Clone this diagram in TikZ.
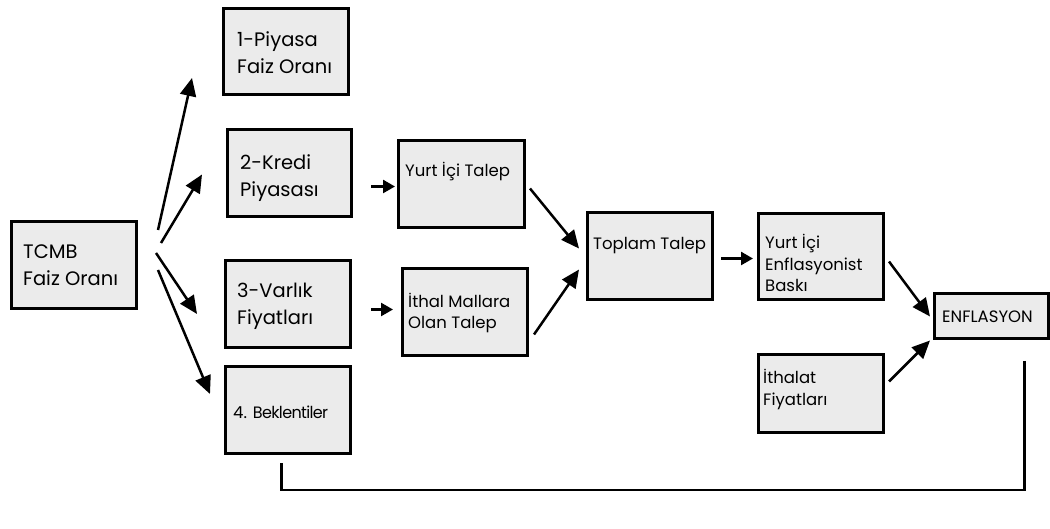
\documentclass[tikz,border=0pt]{standalone}
\usepackage{fontspec}
\setmainfont{Poppins}
\usetikzlibrary{arrows.meta,calc}
\definecolor{boxgray}{HTML}{EBEBEB}
\tikzset{
  box/.style={draw=black, line width=3pt, fill=boxgray, inner sep=0pt, anchor=north west},
  bigtxt/.style={font=\fontsize{19.5}{27}\selectfont, align=left, inner sep=0pt, anchor=base west},
  smalltxt/.style={font=\fontsize{16.5}{21.5}\selectfont, align=left, inner sep=0pt, anchor=base west},
  arr/.style={line width=2.5pt, -{Triangle[length=18pt,width=16pt]}},
  sarr/.style={line width=2.5pt, -{Triangle[length=12pt,width=13pt]}},
  fb/.style={line width=2.5pt}
}
\begin{document}
\begin{tikzpicture}[x=1pt,y=-1pt]
\useasboundingbox (0,0) rectangle (1050,529);
% boxes
\node[box, minimum width=125pt, minimum height=87pt] (tcmb) at (10,220) {};
\node[box, minimum width=125pt, minimum height=86pt] (p1) at (222,7) {};
\node[box, minimum width=124pt, minimum height=87pt] (p2) at (226,128) {};
\node[box, minimum width=125pt, minimum height=87pt] (p3) at (224,259) {};
\node[box, minimum width=125pt, minimum height=87pt] (p4) at (224,365) {};
\node[box, minimum width=126pt, minimum height=87pt] (yt) at (397,139) {};
\node[box, minimum width=125pt, minimum height=87pt] (it) at (401,267) {};
\node[box, minimum width=125pt, minimum height=87pt] (tt) at (586,211) {};
\node[box, minimum width=125pt, minimum height=86pt] (ye) at (757,212) {};
\node[box, minimum width=125pt, minimum height=78pt] (if) at (757,353) {};
\node[box, minimum width=114pt, minimum height=45pt] (enf) at (933,292) {};
% texts (anchor: baseline of last line)
\node[bigtxt] (tcmbt) at (23,286) {TCMB\\Faiz Oranı};
\node[bigtxt] (p1t) at (237,74) {1-Piyasa\\Faiz Oranı};
\node[bigtxt] (p2t) at (240,197) {2-Kredi\\Piyasası};
\node[bigtxt] (p3t) at (237,325) {3-Varlık\\Fiyatları};
\node[smalltxt] (p4t) at (233,418) {4. \scalebox{0.97}[1]{\addfontfeature{LetterSpace=-4}Beklentiler}};
\node[smalltxt] (ytt) at (405,177) {Yurt İçi Talep};
\node[smalltxt] (itt) at (408,329) {İthal Mallara\\Olan Talep};
\node[smalltxt] (ttt) at (593,250) {Toplam Talep};
\node[smalltxt] (yet) at (765,292) {Yurt İçi\\Enflasyonist\\Baskı};
\node[smalltxt] (ift) at (763,405) {İthalat\\Fiyatları};
\node[smalltxt] (enft) at (942,323) {ENFLASYON};
% arrows
\draw[arr] ($(tcmb.north east)+(20,10)$) -- ($(p1.south west)+(-30,-18)$);
\draw[arr] ($(tcmb.north east)+(23,23)$) -- ($(p2.west)+(-24,1.5)$);
\draw[arr] ($(tcmb.north east)+(18,33)$) -- ($(p3.west)+(-27,10)$);
\draw[arr] ($(tcmb.north east)+(20,50)$) -- ($(p4.west)+(-14,-16)$);
\draw[sarr] ($(p2.east)+(18,13.5)$) -- ($(yt.west)+(-2,2.5)$);
\draw[sarr] ($(p3.east)+(19,5.5)$) -- ($(it.west)+(-8,-2.5)$);
\draw[arr] ($(yt.east)+(4,4.5)$) -- ($(tt.west)+(-7,-7.5)$);
\draw[arr] ($(it.east)+(5,22.5)$) -- ($(tt.west)+(-7,13.5)$);
\draw[sarr] ($(tt.east)+(7,2.5)$) -- ($(ye.west)+(-4,2)$);
\draw[arr] ($(ye.east)+(4,5)$) -- ($(enf.west)+(-3,0.5)$);
\draw[arr] ($(if.east)+(4,-12)$) -- ($(enf.west)+(-3,24.5)$);
% feedback line
\draw[fb] ($(enf.south)+(33,21)$) |- ($(p4.south)+(-6.5,35)$) -- ($(p4.south)+(-6.5,8)$);
\end{tikzpicture}
\end{document}
